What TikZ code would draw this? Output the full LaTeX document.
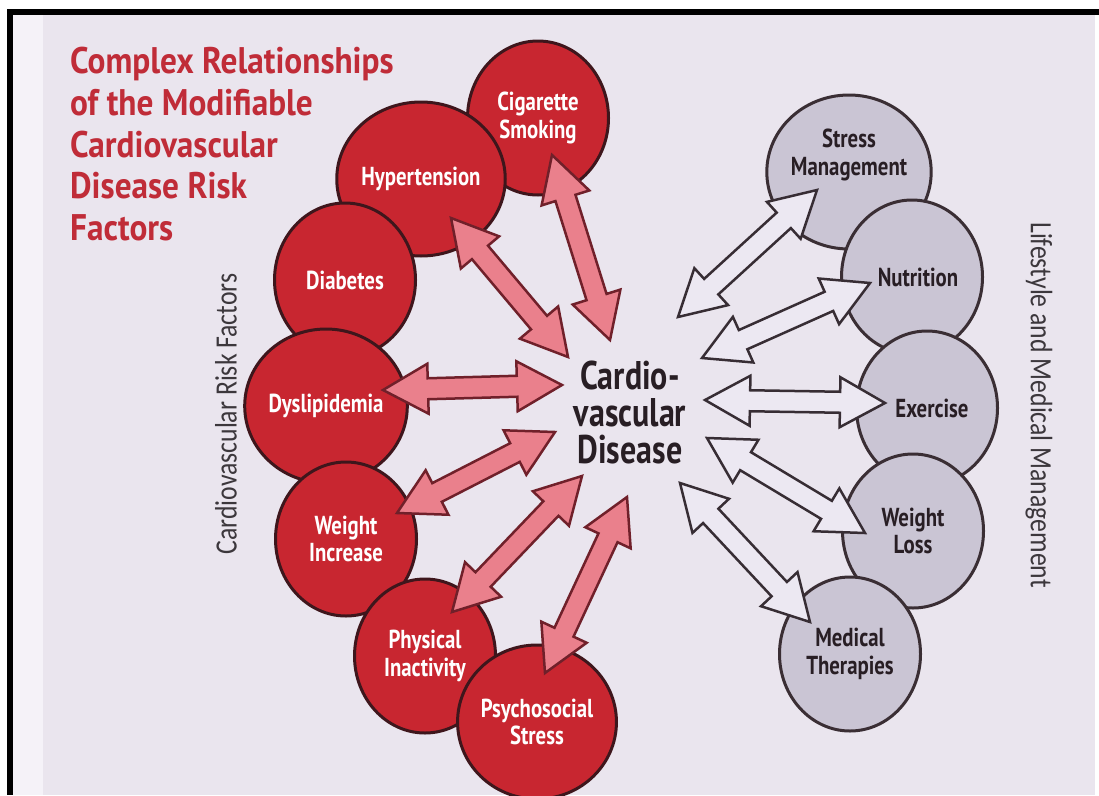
\documentclass[tikz,border=0pt]{standalone}
\usepackage{fontspec}
\setmainfont{PT Sans}
\newfontfamily\condfont{PT Sans}[FakeStretch=0.8]
\newfontfamily\titlefont{PT Sans}[FakeStretch=0.9]
\newfontfamily\lightfont{Carlito}[FakeStretch=0.83]
\usetikzlibrary{shapes.geometric,calc}
\definecolor{bg}{RGB}{234,229,238}
\definecolor{bgstrip}{RGB}{245,242,248}
\definecolor{redfill}{RGB}{200,38,48}
\definecolor{redline}{RGB}{62,22,28}
\definecolor{grayfill}{RGB}{202,197,212}
\definecolor{grayline}{RGB}{58,46,52}
\definecolor{redarrfill}{RGB}{234,128,140}
\definecolor{redarrline}{RGB}{112,32,42}
\definecolor{grayarrfill}{RGB}{236,232,242}
\definecolor{grayarrline}{RGB}{55,45,52}
\definecolor{titlered}{RGB}{192,44,56}
\definecolor{darktext}{RGB}{40,30,36}
\definecolor{sidetext}{RGB}{60,55,60}
\def\HL{45pt}
\def\HW{25pt}
\def\SW{10.5pt}
\newcommand\dblarrow[3]{%
  \coordinate (tmpA) at ($(#2)!\HL!(#3)$);
  \coordinate (tmpB) at ($(#3)!\HL!(#2)$);
  \draw[#1] (#2) -- ($(tmpA)!\HW!90:(#3)$) -- ($(tmpA)!\SW!90:(#3)$)
    -- ($(tmpB)!\SW!-90:(#2)$) -- ($(tmpB)!\HW!-90:(#2)$) -- (#3)
    -- ($(tmpB)!\HW!90:(#2)$) -- ($(tmpB)!\SW!90:(#2)$)
    -- ($(tmpA)!\SW!-90:(#3)$) -- ($(tmpA)!\HW!-90:(#3)$) -- cycle;}
\tikzset{
  circbase/.style={ellipse, minimum width=141pt, minimum height=154pt,
    inner sep=0pt, line width=3pt, align=center,
    font=\condfont\bfseries\fontsize{26}{27.5}\selectfont},
  redcirc/.style={circbase, draw=redline, fill=redfill, text=white},
  graycirc/.style={circbase, draw=grayline, fill=grayfill, text=darktext},
  redarr/.style={draw=redarrline, fill=redarrfill, line width=2.5pt, line join=miter},
  grayarr/.style={draw=grayarrline, fill=grayarrfill, line width=2.5pt, line join=miter},
  sidelabel/.style={text=sidetext, font=\lightfont\fontsize{31}{33}\selectfont, inner sep=0pt}
}
\begin{document}
\begin{tikzpicture}[x=1pt,y=-1pt]
\useasboundingbox (0,0) rectangle (1099,795);
% background and frame
\fill[white] (0,0) rectangle (1099,795);
\fill[bg] (13,15) rectangle (1095,795);
\fill[bgstrip] (13,15) rectangle (43,795);
\fill[black] (7,9) rectangle (1099,15);
\fill[black] (7,9) rectangle (13,795);

% title
\node[anchor=north west, inner sep=0pt, align=left, text=titlered,
  font=\titlefont\bfseries\fontsize{37}{41.7}\selectfont] (title) at (70,47)
  {Complex Relationships\\of the Modifiable\\Cardiovascular\\Disease Risk\\Factors};

% side labels
\node[sidelabel, rotate=90] (leftlbl) at (226,414) {Cardiovascular Risk Factors};
\node[sidelabel, rotate=-90] (rightlbl) at (1039,405) {Lifestyle and Medical Management};

% risk factor circles
\node[redcirc] (cig) at (538,118) {Cigarette\\Smoking};
\node[redcirc] (hyp) at (421,179) {Hypertension};
\node[redcirc] (dia) at (345,280) {Diabetes};
\node[redcirc] (dys) at (326,406) {Dyslipidemia};
\node[redcirc] (wi) at (346,539) {Weight\\Increase};
\node[redcirc] (pi) at (425,656) {Physical\\Inactivity};
\node[redcirc] (ps) at (537,722) {Psychosocial\\Stress};

% lifestyle circles
\node[graycirc] (sm) at (849,172) {\raisebox{10pt}[0pt][0pt]{\begin{tabular}{@{}c@{}}Stress\\Management\end{tabular}}};
\node[graycirc] (nu) at (912,277) {\hspace*{12pt}Nutrition};
\node[graycirc] (ex) at (927,408) {\hspace*{10pt}Exercise};
\node[graycirc] (wl) at (913,531) {Weight\\Loss};
\node[graycirc] (mt) at (850,654) {Medical\\Therapies};

% centre
\node[align=center, text=darktext, inner sep=0pt,
  font=\condfont\bfseries\fontsize{40}{37}\selectfont] (cvd) at (630,412)
  {Cardio-\\vascular\\Disease};

% arrow end points
\coordinate (cig-a) at (552,155);  \coordinate (cig-b) at (610,340);
\coordinate (hyp-a) at (451,218);  \coordinate (hyp-b) at (568,357);
\coordinate (dys-a) at (383,390);  \coordinate (dys-b) at (562,385);
\coordinate (wi-a) at (397,513);   \coordinate (wi-b) at (555,432);
\coordinate (pi-a) at (452,612);   \coordinate (pi-b) at (582,476);
\coordinate (ps-a) at (545,673);   \coordinate (ps-b) at (627,497);
\coordinate (sm-a) at (817,190);   \coordinate (sm-b) at (678,317);
\coordinate (nu-a) at (870,283);   \coordinate (nu-b) at (702,358);
\coordinate (ex-a) at (885,403);   \coordinate (ex-b) at (705,400);
\coordinate (wl-a) at (865,533);   \coordinate (wl-b) at (707,438);
\coordinate (mt-a) at (810,622);   \coordinate (mt-b) at (680,483);

% red arrows
\dblarrow{redarr}{cig-a}{cig-b}
\dblarrow{redarr}{hyp-a}{hyp-b}
\dblarrow{redarr}{dys-a}{dys-b}
\dblarrow{redarr}{wi-a}{wi-b}
\dblarrow{redarr}{pi-a}{pi-b}
\dblarrow{redarr}{ps-a}{ps-b}
% gray arrows
\dblarrow{grayarr}{sm-a}{sm-b}
\dblarrow{grayarr}{nu-a}{nu-b}
\dblarrow{grayarr}{ex-a}{ex-b}
\dblarrow{grayarr}{wl-a}{wl-b}
\dblarrow{grayarr}{mt-a}{mt-b}
\end{tikzpicture}
\end{document}
